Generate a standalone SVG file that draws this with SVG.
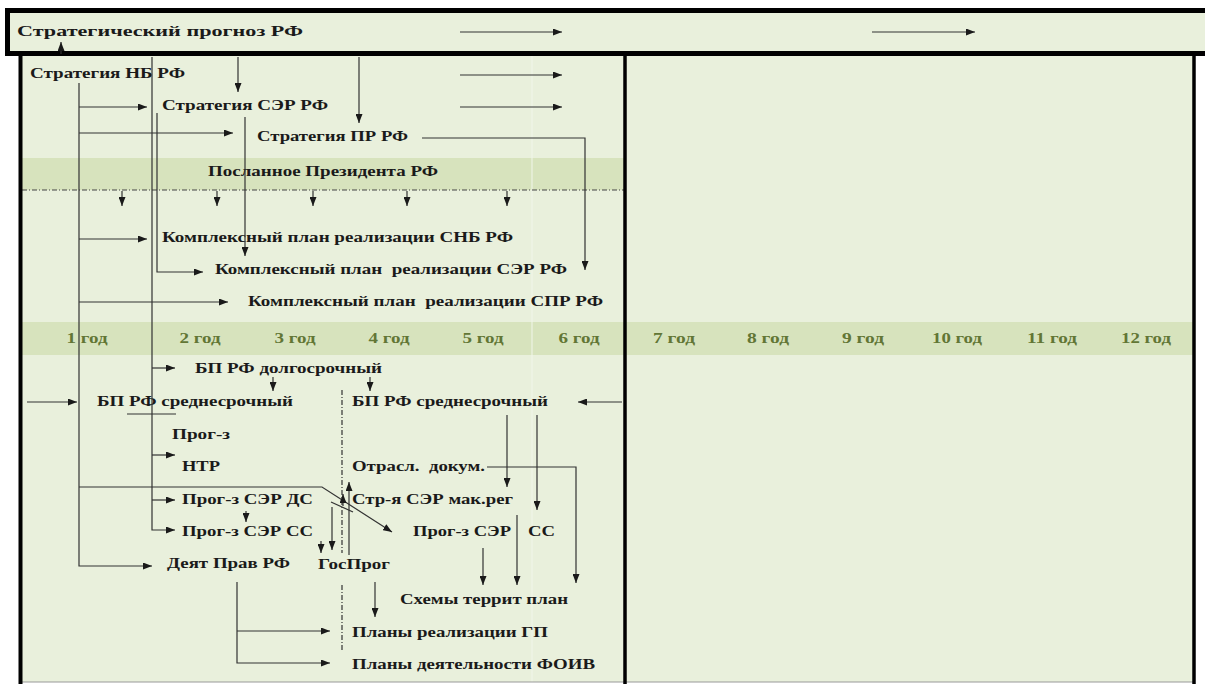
<svg xmlns="http://www.w3.org/2000/svg" width="1205" height="684" viewBox="0 0 1205 684">
<style>
.t{font-family:"Liberation Serif","Times New Roman",serif;font-weight:bold;font-size:15px;fill:#1a1a1a;white-space:pre}
.y{font-family:"Liberation Serif","Times New Roman",serif;font-weight:bold;font-size:15px;fill:#627635;text-anchor:middle}
.c{fill:none;stroke:#333;stroke-width:1.2}
.a{marker-end:url(#ah)}
</style>
<defs>
<marker id="ah" viewBox="0 0 9 7" refX="9" refY="3.5" markerWidth="9" markerHeight="7" markerUnits="userSpaceOnUse" orient="auto">
<path d="M0,0 L9,3.5 L0,7 z" fill="#1a1a1a"/>
</marker>
</defs>
<rect x="0" y="0" width="1205" height="684" fill="#fff"/>
<g id="background">
<rect x="20" y="55" width="1174" height="627" fill="#e9f0dc"/>
<rect x="22" y="158" width="603" height="32" fill="#d7e3bd"/>
<rect x="22" y="322" width="1171" height="33" fill="#d7e3bd"/>
<line x1="532" y1="12" x2="532" y2="682" stroke="#f1f6ea" stroke-width="1"/>
<line x1="22" y1="190" x2="625" y2="190" stroke="#444" stroke-width="1" stroke-dasharray="5,2,1,2"/>
<line x1="20" y1="682" x2="1194" y2="682" stroke="#9a9a9a" stroke-width="1.2"/>
<line x1="20.5" y1="55" x2="20.5" y2="684" stroke="#000" stroke-width="4"/>
<line x1="625" y1="55" x2="625" y2="684" stroke="#000" stroke-width="3.5"/>
<line x1="1194" y1="55" x2="1194" y2="684" stroke="#000" stroke-width="3.5"/>
</g>
<g id="n-prognoz">
<rect x="7.5" y="10.5" width="1200" height="43" fill="#e9f0dc" stroke="#000" stroke-width="5"/>
<text class="t" x="17" y="36" font-size="19" textLength="286" lengthAdjust="spacingAndGlyphs">Стратегический прогноз РФ</text>
</g>
<g id="n-snb"><text class="t" x="30" y="78" textLength="155" lengthAdjust="spacingAndGlyphs">Стратегия НБ РФ</text></g>
<g id="n-ser"><text class="t" x="162" y="110" textLength="166" lengthAdjust="spacingAndGlyphs">Стратегия СЭР РФ</text></g>
<g id="n-pr"><text class="t" x="257" y="141" textLength="151" lengthAdjust="spacingAndGlyphs">Стратегия ПР РФ</text></g>
<g id="n-poslanie"><text class="t" x="208" y="176" textLength="230" lengthAdjust="spacingAndGlyphs">Посланное Президента РФ</text></g>
<g id="n-kp-snb"><text class="t" x="162" y="242" textLength="351" lengthAdjust="spacingAndGlyphs">Комплексный план реализации СНБ РФ</text></g>
<g id="n-kp-ser"><text class="t" x="215" y="274" textLength="352" lengthAdjust="spacingAndGlyphs">Комплексный план  реализации СЭР РФ</text></g>
<g id="n-kp-spr"><text class="t" x="248" y="306" textLength="355" lengthAdjust="spacingAndGlyphs">Комплексный план  реализации СПР РФ</text></g>
<g id="years">
<text class="y" x="87" y="343" textLength="41" lengthAdjust="spacingAndGlyphs">1 год</text>
<text class="y" x="200" y="343" textLength="41" lengthAdjust="spacingAndGlyphs">2 год</text>
<text class="y" x="295" y="343" textLength="41" lengthAdjust="spacingAndGlyphs">3 год</text>
<text class="y" x="389" y="343" textLength="41" lengthAdjust="spacingAndGlyphs">4 год</text>
<text class="y" x="483" y="343" textLength="41" lengthAdjust="spacingAndGlyphs">5 год</text>
<text class="y" x="579" y="343" textLength="41" lengthAdjust="spacingAndGlyphs">6 год</text>
<text class="y" x="674" y="343" textLength="42" lengthAdjust="spacingAndGlyphs">7 год</text>
<text class="y" x="768" y="343" textLength="42" lengthAdjust="spacingAndGlyphs">8 год</text>
<text class="y" x="863" y="343" textLength="42" lengthAdjust="spacingAndGlyphs">9 год</text>
<text class="y" x="957" y="343" textLength="50" lengthAdjust="spacingAndGlyphs">10 год</text>
<text class="y" x="1052" y="343" textLength="50" lengthAdjust="spacingAndGlyphs">11 год</text>
<text class="y" x="1146" y="343" textLength="50" lengthAdjust="spacingAndGlyphs">12 год</text>
</g>
<g id="n-bp-dolg"><text class="t" x="195" y="373" textLength="187" lengthAdjust="spacingAndGlyphs">БП РФ долгосрочный</text></g>
<g id="n-bp-sr1"><text class="t" x="97" y="406" textLength="196" lengthAdjust="spacingAndGlyphs">БП РФ среднесрочный</text></g>
<g id="n-bp-sr2"><text class="t" x="352" y="406" textLength="196" lengthAdjust="spacingAndGlyphs">БП РФ среднесрочный</text></g>
<g id="n-ntr"><text class="t" x="172" y="439" textLength="58" lengthAdjust="spacingAndGlyphs">Прог-з</text><text class="t" x="182" y="471" textLength="38" lengthAdjust="spacingAndGlyphs">НТР</text></g>
<g id="n-otr"><text class="t" x="352" y="471" textLength="133" lengthAdjust="spacingAndGlyphs">Отрасл.  докум.</text></g>
<g id="n-ds"><text class="t" x="182" y="504" textLength="131" lengthAdjust="spacingAndGlyphs">Прог-з СЭР ДС</text></g>
<g id="n-makreg"><text class="t" x="352" y="504" textLength="161" lengthAdjust="spacingAndGlyphs">Стр-я СЭР мак.рег</text></g>
<g id="n-ss1"><text class="t" x="182" y="536" textLength="131" lengthAdjust="spacingAndGlyphs">Прог-з СЭР СС</text></g>
<g id="n-ss2"><text class="t" x="413" y="536" textLength="98" lengthAdjust="spacingAndGlyphs">Прог-з СЭР</text><text class="t" x="528" y="536" textLength="27" lengthAdjust="spacingAndGlyphs">СС</text></g>
<g id="n-deyat"><text class="t" x="167" y="568" textLength="123" lengthAdjust="spacingAndGlyphs">Деят Прав РФ</text></g>
<g id="n-gosprog"><text class="t" x="318" y="569" textLength="72" lengthAdjust="spacingAndGlyphs">ГосПрог</text></g>
<g id="n-shemy"><text class="t" x="400" y="604" textLength="168" lengthAdjust="spacingAndGlyphs">Схемы террит план</text></g>
<g id="n-plany-gp"><text class="t" x="352" y="637" textLength="196" lengthAdjust="spacingAndGlyphs">Планы реализации ГП</text></g>
<g id="n-plany-foiv"><text class="t" x="352" y="669" textLength="243" lengthAdjust="spacingAndGlyphs">Планы деятельности ФОИВ</text></g>
<g id="connectors">
<path class="c a" d="M460,32 H562"/>
<path class="c a" d="M872,32 H975"/>
<path class="c a" d="M61,54 V42"/>
<path class="c a" d="M238,57 V92"/>
<path class="c a" d="M359,57 V123"/>
<path class="c a" d="M460,75 H562"/>
<path class="c a" d="M460,107 H562"/>
<path class="c a" d="M79,83 V566 H152"/>
<path class="c a" d="M79,107 H147"/>
<path class="c a" d="M79,133 H233"/>
<path class="c a" d="M79,239 H147"/>
<path class="c a" d="M79,302 H228"/>
<path class="c a" d="M79,487 H322 L392,532"/>
<path class="c a" d="M27,402 H77"/>
<path class="c a" d="M152,57 V530 H175"/>
<path class="c a" d="M152,500 H175"/>
<path class="c a" d="M152,368 H175"/>
<path class="c a" d="M152,455 H175"/>
<path class="c" d="M127,414 H176"/>
<path class="c a" d="M157,113 V272 H203"/>
<path class="c a" d="M245,117 V256"/>
<path class="c a" d="M422,138 H585 V270"/>
<path class="c a" d="M122,191 V206"/>
<path class="c a" d="M217,191 V206"/>
<path class="c a" d="M313,191 V206"/>
<path class="c a" d="M407,191 V206"/>
<path class="c a" d="M507,191 V206"/>
<path class="c a" d="M273,377 V391"/>
<path class="c a" d="M370,377 V391"/>
<path class="c a" d="M622,402 H578"/>
<path class="c" d="M342,390 V553 M342,585 V652" stroke-dasharray="5,2,1,2" stroke-width="1"/>
<path class="c a" d="M507,415 V487"/>
<path class="c a" d="M537,415 V510"/>
<path class="c a" d="M487,467 H576 V583"/>
<path class="c a" d="M517,515 V585"/>
<path class="c a" d="M483,548 V585"/>
<path class="c a" d="M375,582 V617"/>
<path class="c a" d="M237,582 V663 H330"/>
<path class="c a" d="M237,631 H330"/>
<path class="c a" d="M332,507 V550"/>
<path class="c a" d="M321,541 V553"/>
<path class="c a" d="M349,555 V482"/>
<path class="c a" d="M343,506 V494"/>
<path class="c" d="M331,502 L353,512"/>
<path class="c a" d="M246,511 V522"/>
</g>
</svg>
